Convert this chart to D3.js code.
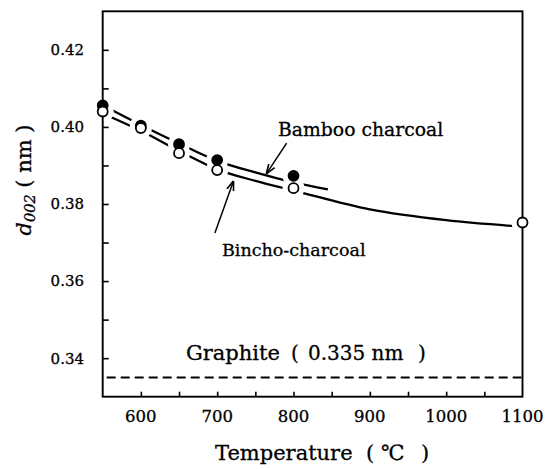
<!DOCTYPE html>
<html>
<head>
<meta charset="utf-8">
<script src="https://cdn.jsdelivr.net/npm/d3@7"></script>
<style>
  html, body { margin: 0; padding: 0; background: #fff; }
  svg { display: block; }
  text { font-family: "DejaVu Serif", "Liberation Serif", serif; fill: #000; stroke: #000; stroke-width: 0.3px; }
</style>
</head>
<body>
<svg id="chart" width="547" height="469"></svg>
<script>
// Carbonisation temperature (°C) of the measured samples
const bambooTemps = [550, 600, 650, 700, 800];
const bambooD002  = [0.4056, 0.4003, 0.3955, 0.3914, 0.3873];
const binchoTemps = [550, 600, 650, 700, 800, 1100];
const binchoD002  = [0.4040, 0.3997, 0.3932, 0.3888, 0.3841, 0.3752];

// Hand-drawn trend curves through each series
const bambooCurveTemps = [550, 600, 650, 700, 750, 800, 845];
const bambooCurveD002  = [0.4056, 0.4005, 0.3957, 0.3912, 0.3882, 0.3856, 0.3838];
const binchoCurveTemps = [550, 600, 650, 700, 750, 800, 900, 1000, 1100];
const binchoCurveD002  = [0.4035, 0.3990, 0.3938, 0.3890, 0.3860, 0.3835, 0.3786, 0.3758, 0.3741];

// Reference spacing of graphite
const graphiteD002 = 0.335;

// Axis ticks
const xMajorTicks = [600, 700, 800, 900, 1000, 1100];
const xMinorTicks = [600, 650, 700, 750, 800, 850, 900, 950, 1000, 1050];
const yMajorTicks = [0.34, 0.36, 0.38, 0.40, 0.42];
const yMinorTicks = [0.34, 0.35, 0.36, 0.37, 0.38, 0.39, 0.40, 0.41, 0.42];

const svg = d3.select("#chart");

const x = d3.scaleLinear().domain([550, 1100]).range([102.7, 522.5]);
const y = d3.scaleLinear().domain([0.33, 0.43]).range([396.7, 11.3]);

const zip = (a, b) => a.map((v, i) => [v, b[i]]);

const line = d3.line()
  .x(d => x(d[0]))
  .y(d => y(d[1]))
  .curve(d3.curveMonotoneX);

// Graphite reference line
svg.append("line")
  .attr("x1", x(550) + 4).attr("x2", x(1100) - 1)
  .attr("y1", y(graphiteD002)).attr("y2", y(graphiteD002))
  .attr("stroke", "#000").attr("stroke-width", 1.9)
  .attr("stroke-dasharray", "9,5");

// Trend curves
const curves = svg.append("g").attr("fill", "none").attr("stroke", "#000").attr("stroke-width", 2.3);
curves.append("path").attr("d", line(zip(bambooCurveTemps, bambooCurveD002)));
curves.append("path").attr("d", line(zip(binchoCurveTemps, binchoCurveD002)));

// White gaps in the curves around each marker
const halos = svg.append("g").attr("fill", "#fff");
zip(bambooTemps, bambooD002).concat(zip(binchoTemps, binchoD002)).forEach(d => {
  halos.append("circle").attr("cx", x(d[0])).attr("cy", y(d[1])).attr("r", 11);
});

// Axes: frame with inward ticks
const axes = svg.append("g").attr("stroke", "#000").attr("stroke-width", 1.9).attr("fill", "none");
axes.append("rect")
  .attr("x", x(550)).attr("y", y(0.43))
  .attr("width", x(1100) - x(550)).attr("height", y(0.33) - y(0.43));

const yAxis = d3.axisRight(y).tickValues(yMinorTicks).tickSize(6).tickFormat("");
const gy = svg.append("g").attr("transform", `translate(${x(550)},0)`).call(yAxis);
gy.select(".domain").remove();
gy.selectAll("line").attr("stroke-width", 1.6);

const xAxis = d3.axisTop(x).tickValues(xMinorTicks).tickSize(5).tickFormat("");
const gx = svg.append("g").attr("transform", `translate(0,${y(0.33)})`).call(xAxis);
gx.select(".domain").remove();
gx.selectAll("line").attr("stroke-width", 1.6);

// Tick labels
svg.append("g").selectAll("text").data(yMajorTicks).join("text")
  .attr("x", 84).attr("y", d => y(d)).attr("dy", "0.36em")
  .attr("text-anchor", "end").attr("font-size", 15)
  .text(d => d3.format(".2f")(d));

svg.append("g").selectAll("text").data(xMajorTicks).join("text")
  .attr("x", d => x(d)).attr("y", 422)
  .attr("text-anchor", "middle").attr("font-size", 16.5)
  .text(d => d);

// Markers: filled = bamboo charcoal, open = bincho-charcoal
const marks = svg.append("g").attr("stroke", "#000").attr("stroke-width", 1.8);
marks.selectAll(".bamboo").data(zip(bambooTemps, bambooD002)).join("circle")
  .attr("class", "bamboo")
  .attr("cx", d => x(d[0])).attr("cy", d => y(d[1])).attr("r", 5)
  .attr("fill", "#000");
marks.selectAll(".bincho").data(zip(binchoTemps, binchoD002)).join("circle")
  .attr("class", "bincho")
  .attr("cx", d => x(d[0])).attr("cy", d => y(d[1])).attr("r", 5)
  .attr("fill", "#fff");

// Series annotations with arrows
svg.append("defs").append("marker")
  .attr("id", "head").attr("viewBox", "0 0 10 10")
  .attr("refX", 9).attr("refY", 5)
  .attr("markerWidth", 10).attr("markerHeight", 10)
  .attr("markerUnits", "userSpaceOnUse")
  .attr("orient", "auto")
  .append("path").attr("d", "M0,1.5 L10,5 L0,8.5").attr("fill", "none")
  .attr("stroke", "#000").attr("stroke-width", 1.6);

const arrows = [
  { from: [791, 0.3958], to: [765, 0.3880] },
  { from: [697, 0.3725], to: [721, 0.3858] }
];
svg.append("g").selectAll("line").data(arrows).join("line")
  .attr("x1", d => x(d.from[0])).attr("y1", d => y(d.from[1]))
  .attr("x2", d => x(d.to[0])).attr("y2", d => y(d.to[1]))
  .attr("stroke", "#000").attr("stroke-width", 1.5)
  .attr("marker-end", "url(#head)");

svg.append("text").attr("x", 278).attr("y", 136).attr("font-size", 18.8)
  .text("Bamboo charcoal");
svg.append("text").attr("x", 222).attr("y", 256).attr("font-size", 17.5)
  .text("Bincho-charcoal");

const graphite = svg.append("text").attr("y", 360).attr("font-size", 20);
graphite.append("tspan").attr("x", 186).attr("font-size", 21).text("Graphite");
graphite.append("tspan").attr("x", 291).text("(");
graphite.append("tspan").attr("x", 308).text("0.335 nm");
graphite.append("tspan").attr("x", 418).text(")");

// Axis titles
const xTitle = svg.append("text").attr("y", 460).attr("font-size", 21);
xTitle.append("tspan").attr("x", 215).text("Temperature");
xTitle.append("tspan").attr("x", 366).text("(");
xTitle.append("tspan").attr("x", 381).text("℃");
xTitle.append("tspan").attr("x", 421).text(")");

const yTitle = svg.append("text")
  .attr("transform", "translate(31,180) rotate(-90)")
  .attr("text-anchor", "middle").attr("font-size", 21);
yTitle.append("tspan").attr("font-style", "italic").text("d");
yTitle.append("tspan").attr("font-style", "italic").attr("font-size", 14.5).attr("dy", 4).text("002");
yTitle.append("tspan").attr("dy", -4).text("  ( nm )");
</script>
</body>
</html>
